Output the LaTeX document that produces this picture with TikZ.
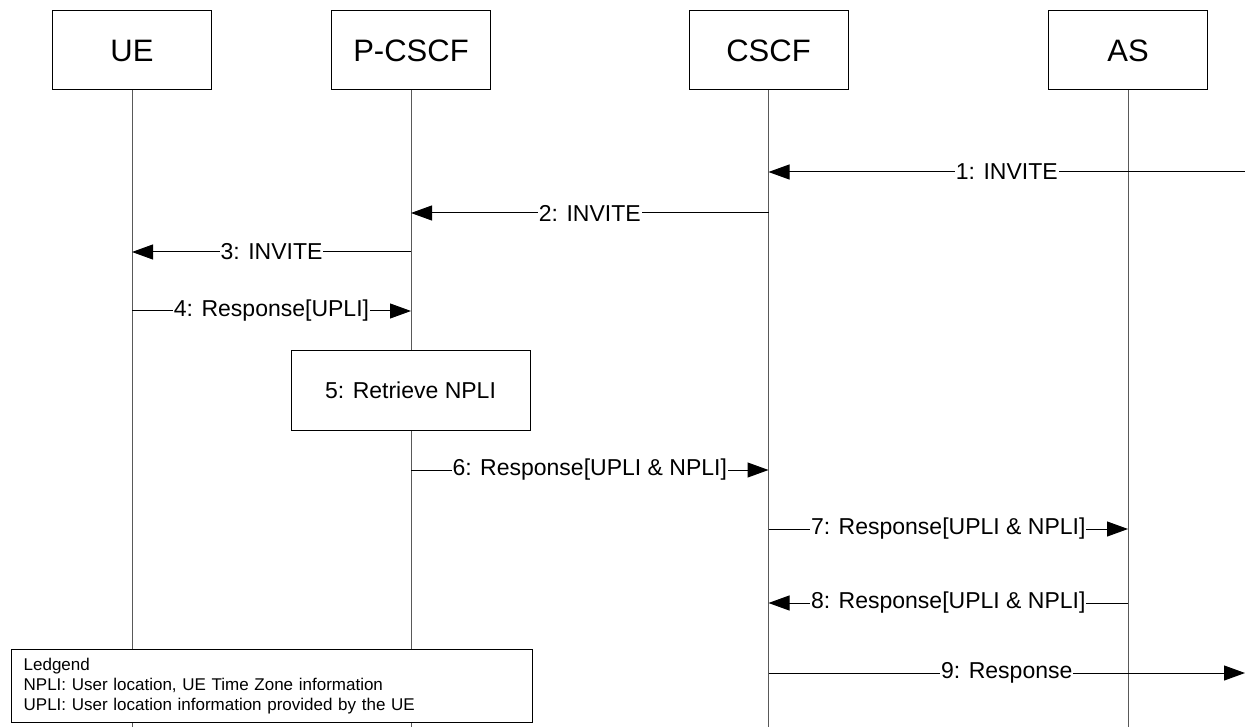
\documentclass[tikz,border=0pt]{standalone}
\usepackage{fontspec}
\setmainfont{Liberation Sans}
\usetikzlibrary{arrows.meta,positioning}

\begin{document}
\begin{tikzpicture}[x=1pt, y=-1pt,
    ent/.style={rectangle, draw, fill=white, line width=1pt, minimum width=159pt,
                minimum height=79pt, inner sep=0pt, font=\fontsize{31}{36}\selectfont},
    stepbox/.style={ent, minimum width=239pt, minimum height=80pt, font=\fontsize{23}{27}\selectfont},
    life/.style={black!65, line width=1pt},
    msg/.style={-{Triangle[length=21pt,width=15pt]}, line width=1pt},
    lbl/.style={fill=white, inner sep=1pt, font=\fontsize{23}{27}\selectfont}
]
    \useasboundingbox (0,0) rectangle (1245,727);
    % entities and lifelines
    \node[ent] (ue)    at (132,50.5)   {UE};
    \node[ent] (pcscf) at (411,50.5)   {P-CSCF};
    \node[ent] (cscf)  at (768.5,50.5) {CSCF};
    \node[ent] (as)    at (1128,50.5)  {AS};
    \foreach \n in {ue,pcscf,cscf,as}
        \draw[life] (\n.south) -- (\n.south |- 0,727);
    \coordinate (edge) at (1245,0);

    % messages
    \draw[msg] (edge |- 0,172) -- (cscf |- 0,172) node[lbl,midway] {1: INVITE};
    \draw[msg] (cscf |- 0,213) -- (pcscf |- 0,213) node[lbl,midway] {2: INVITE};
    \draw[msg] (pcscf |- 0,252) -- (ue |- 0,252) node[lbl,midway] {3: INVITE};
    \draw[msg] (ue |- 0,311) -- (pcscf |- 0,311) node[lbl,midway] {4: Response[UPLI]};
    \node[stepbox] (retrieve) at (410.5,390) {5: Retrieve NPLI};
    \draw[msg] (pcscf |- 0,470) -- (cscf |- 0,470) node[lbl,midway] {6: Response[UPLI \& NPLI]};
    \draw[msg] (cscf |- 0,529) -- (as |- 0,529) node[lbl,midway] {7: Response[UPLI \& NPLI]};
    \draw[msg] (as |- 0,603) -- (cscf |- 0,603) node[lbl,midway] {8: Response[UPLI \& NPLI]};
    \draw[msg] (cscf |- 0,673) -- (edge |- 0,673) node[lbl,midway] {9: Response};

    % legend
    \node[draw, fill=white, line width=1.3pt, anchor=north west, align=left,
          text width=497pt, inner xsep=12pt, inner ysep=0pt, minimum height=73pt,
          font=\fontsize{17}{20}\selectfont] (legend) at (11,649)
        {Ledgend\\NPLI: User location, UE Time Zone information\\UPLI: User location information provided by the UE};
\end{tikzpicture}
\end{document}
